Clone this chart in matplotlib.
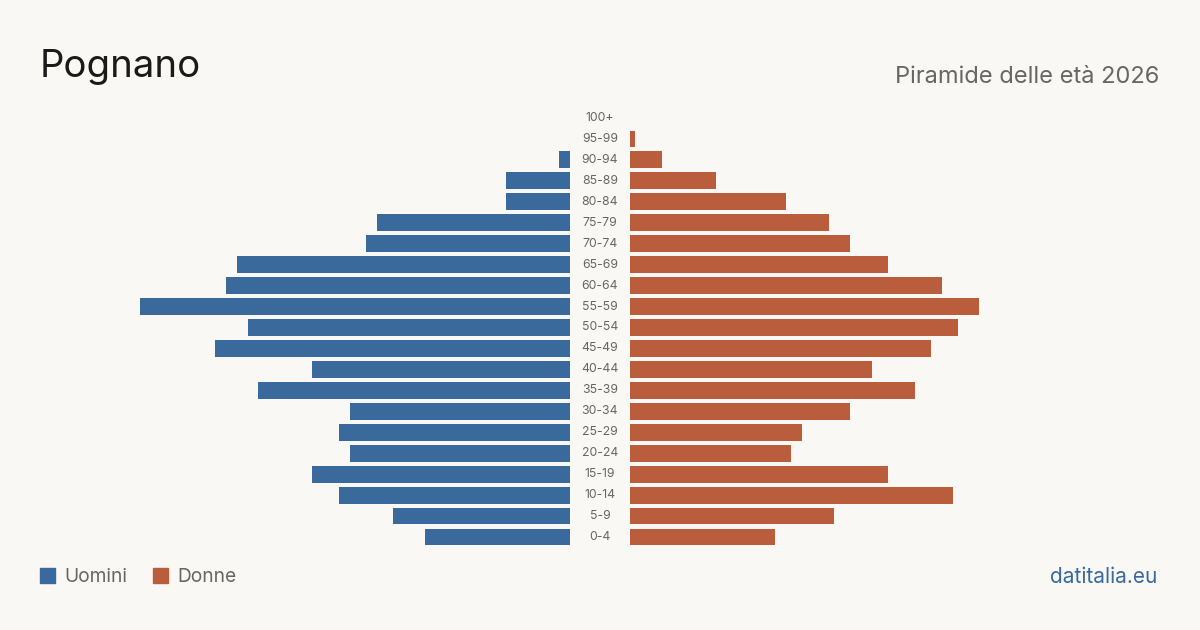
import matplotlib
matplotlib.use("Agg")
import matplotlib.pyplot as plt
from matplotlib.transforms import blended_transform_factory
from matplotlib.patches import Rectangle

age_groups = ["0-4", "5-9", "10-14", "15-19", "20-24", "25-29", "30-34", "35-39",
              "40-44", "45-49", "50-54", "55-59", "60-64", "65-69", "70-74",
              "75-79", "80-84", "85-89", "90-94", "95-99", "100+"]
men = [27, 33, 43, 48, 41, 43, 41, 58, 48, 66, 60, 80, 64, 62, 38, 36, 12, 12, 2, 0, 0]
women = [27, 38, 60, 48, 30, 32, 41, 53, 45, 56, 61, 65, 58, 48, 41, 37, 29, 16, 6, 1, 0]

title = "Pognano"
subtitle = "Piramide delle età 2026"
source = "datitalia.eu"

BG = "#f9f8f4"
BLUE = "#3a6a9c"
ORANGE = "#ba5d3d"
GRAY = "#666666"

plt.rcParams['font.family'] = ['Inter', 'DejaVu Sans']

W, H = 1200, 630
fig = plt.figure(figsize=(12, 6.3), dpi=100, facecolor=BG)

def fx(px):
    return px / W

def fy(py):
    return 1 - py / H

top_px, bot_px = 107.5, 547.5
ax_l = fig.add_axes([fx(140), fy(bot_px), fx(430), (bot_px - top_px) / H])
ax_r = fig.add_axes([fx(630), fy(bot_px), fx(430), (bot_px - top_px) / H])

y = list(range(len(age_groups)))
ax_l.barh(y, men, height=0.8, color=BLUE)
ax_r.barh(y, women, height=0.8, color=ORANGE)
ax_l.set_xlim(80, 0)
ax_r.set_xlim(0, 80)
for ax in (ax_l, ax_r):
    ax.set_ylim(-0.5, len(age_groups) - 0.5)
    ax.axis("off")
    ax.set_facecolor("none")

tr = blended_transform_factory(fig.transFigure, ax_l.transData)
for i, lab in enumerate(age_groups):
    fig.text(0.5, i, lab, transform=tr, ha="center", va="center",
             fontsize=8.8, color=GRAY)

fig.text(fx(40), fy(67), title, fontsize=27.6, color="#1a1a1a", ha="left", va="center")
fig.text(fx(1159), fy(77), subtitle, fontsize=17, color=GRAY, ha="right", va="center")

# legend
fig.patches.append(Rectangle((fx(40), fy(583)), fx(15), 15 / H, transform=fig.transFigure,
                             color=BLUE, figure=fig))
fig.text(fx(64), fy(577), "Uomini", fontsize=13.8, color=GRAY, ha="left", va="center")
fig.patches.append(Rectangle((fx(153), fy(583)), fx(15), 15 / H, transform=fig.transFigure,
                             color=ORANGE, figure=fig))
fig.text(fx(177), fy(577), "Donne", fontsize=13.8, color=GRAY, ha="left", va="center")

fig.text(fx(1157), fy(577), source, fontsize=15, color=BLUE, ha="right", va="center")

fig.savefig("out.png", dpi=100, facecolor=BG)
